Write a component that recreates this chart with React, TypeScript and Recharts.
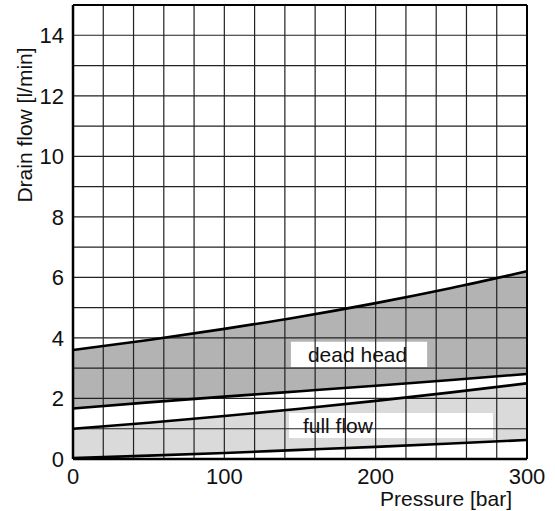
import {
  ComposedChart,
  Area,
  Line,
  XAxis,
  YAxis,
  ReferenceLine,
  ReferenceArea,
  Label,
} from 'recharts';

// pressure [bar]
const pressure = [0, 50, 100, 150, 200, 250, 300];

// drain flow [l/min]
const deadHeadUpper = [3.6, 3.93, 4.3, 4.7, 5.15, 5.65, 6.2];
const deadHeadLower = [1.67, 1.87, 2.06, 2.24, 2.42, 2.61, 2.81];
const fullFlowUpper = [1.0, 1.2, 1.42, 1.66, 1.92, 2.2, 2.5];
const fullFlowLower = [0.03, 0.11, 0.2, 0.3, 0.4, 0.51, 0.63];

const xTicks = [0, 100, 200, 300];
const yTicks = [0, 2, 4, 6, 8, 10, 12, 14];
const xGrid = [20, 40, 60, 80, 100, 120, 140, 160, 180, 200, 220, 240, 260, 280];
const yGrid = [1, 2, 3, 4, 5, 6, 7, 8, 9, 10, 11, 12, 13, 14];

const data = pressure.map((p, i) => ({
  p,
  dhU: deadHeadUpper[i],
  dhL: deadHeadLower[i],
  ffU: fullFlowUpper[i],
  ffL: fullFlowLower[i],
  deadHead: [deadHeadLower[i], deadHeadUpper[i]],
  fullFlow: [fullFlowLower[i], fullFlowUpper[i]],
}));

const FONT = '"Liberation Sans", Arial, sans-serif';

export default function App() {
  return (
    <div style={{ position: 'absolute', left: 0, top: 0, background: '#fff' }}>
      <ComposedChart
        width={555}
        height={511}
        data={data}
        margin={{ top: 5, right: 28, left: 0, bottom: 0 }}
        style={{ fontFamily: FONT }}
      >
        <XAxis
          dataKey="p"
          type="number"
          domain={[0, 300]}
          ticks={xTicks}
          axisLine={false}
          tickLine={false}
          tickSize={0}
          tickMargin={9}
          height={52}
          tick={{ fontSize: 22, fill: '#111' }}
        >
          <Label
            content={({ viewBox }: any) => (
              <text
                x={viewBox.x + viewBox.width - 15}
                y={viewBox.y + 47}
                textAnchor="end"
                fontSize={21}
                fill="#111"
              >
                Pressure [bar]
              </text>
            )}
          />
        </XAxis>
        <YAxis
          type="number"
          domain={[0, 15]}
          ticks={yTicks}
          allowDataOverflow
          axisLine={false}
          tickLine={false}
          tickSize={0}
          tickMargin={9}
          width={73}
          tick={{ fontSize: 22, fill: '#111' }}
        >
          <Label
            content={({ viewBox }: any) => (
              <text
                x={32}
                y={viewBox.y + 120}
                transform={`rotate(-90, 32, ${viewBox.y + 120})`}
                textAnchor="middle"
                fontSize={21}
                fill="#111"
              >
                Drain flow [l/min]
              </text>
            )}
          />
        </YAxis>

        <Area
          dataKey="deadHead"
          type="monotone"
          fill="#b3b3b3"
          fillOpacity={1}
          stroke="none"
          isAnimationActive={false}
        />
        <Area
          dataKey="fullFlow"
          type="monotone"
          fill="#dadada"
          fillOpacity={1}
          stroke="none"
          isAnimationActive={false}
        />

        {xGrid.map((v) => (
          <ReferenceLine key={`vx-${v}`} x={v} stroke="#222" strokeWidth={1.2} />
        ))}
        {yGrid.map((v) => (
          <ReferenceLine key={`hy-${v}`} y={v} stroke="#222" strokeWidth={1.2} />
        ))}
        <ReferenceLine x={0} stroke="#000" strokeWidth={2.5} />
        <ReferenceLine x={300} stroke="#000" strokeWidth={2} />
        <ReferenceLine y={0} stroke="#000" strokeWidth={2.5} />
        <ReferenceLine y={15} stroke="#000" strokeWidth={2} />

        <Line dataKey="dhU" type="monotone" dot={false} stroke="#000" strokeWidth={2.6} isAnimationActive={false} />
        <Line dataKey="dhL" type="monotone" dot={false} stroke="#000" strokeWidth={2.6} isAnimationActive={false} />
        <Line dataKey="ffU" type="monotone" dot={false} stroke="#000" strokeWidth={2.6} isAnimationActive={false} />
        <Line dataKey="ffL" type="monotone" dot={false} stroke="#000" strokeWidth={2.6} isAnimationActive={false} />

        <ReferenceArea x1={144} x2={234} y1={3.04} y2={3.87} fill="#fff" fillOpacity={1} stroke="none">
          <Label position="insideLeft" offset={17} fontSize={21} fill="#111">
            dead head
          </Label>
        </ReferenceArea>
        <ReferenceArea x1={142.7} x2={277.5} y1={0.69} y2={1.52} fill="#fff" fillOpacity={1} stroke="none">
          <Label position="insideLeft" offset={14} fontSize={21} fill="#111">
            full flow
          </Label>
        </ReferenceArea>
      </ComposedChart>
    </div>
  );
}
